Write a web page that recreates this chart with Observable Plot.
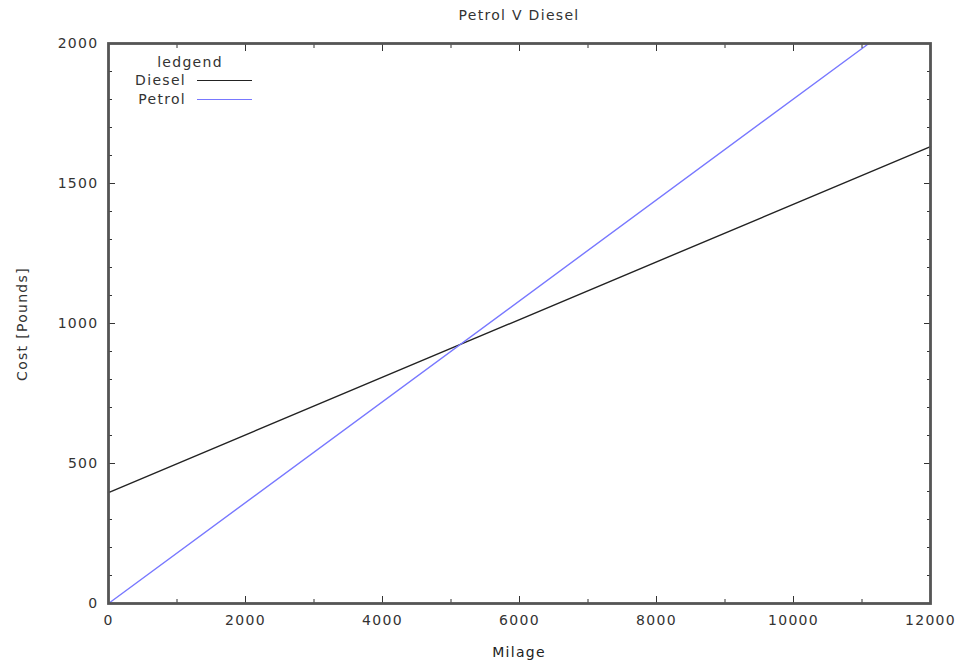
<!DOCTYPE html>
<html>
<head>
<meta charset="utf-8">
<script src="https://cdn.jsdelivr.net/npm/d3@7"></script>
<script src="https://cdn.jsdelivr.net/npm/@observablehq/plot@0.6"></script>
<style>
  body { margin: 0; background: #fff; font-family: "DejaVu Sans", sans-serif; }
  #wrap { position: relative; width: 960px; height: 662px; font-size: 14px; letter-spacing: 1.3px; color: #333; }
  .t { position: absolute; white-space: nowrap; line-height: 16px; }
  #title { top: 7px; left: 519px; transform: translateX(-50%); }
  #xlabel { top: 644px; left: 519px; transform: translateX(-50%); color: #222; }
  #ylabel { left: 22px; top: 324px; transform: translate(-50%, -50%) rotate(-90deg); }
  #lgTitle { top: 54px; left: 190px; transform: translateX(-50%); }
  .lgLab { right: calc(960px - 186px); }
  .lgLine { position: absolute; left: 197px; width: 55px; height: 0; }
</style>
</head>
<body>
<div id="wrap">
  <div id="title" class="t"></div>
  <div id="xlabel" class="t"></div>
  <div id="ylabel" class="t"></div>
  <div id="lgTitle" class="t"></div>
</div>
<script>
const titleText = "Petrol V Diesel";
const xLabel = "Milage";
const yLabel = "Cost [Pounds]";
const legendTitle = "ledgend";
const seriesNames = ["Diesel", "Petrol"];
const seriesColors = ["#222222", "#7878ff"];
const dieselMiles = [0, 12000];
const dieselCost = [396, 1632];
const petrolMiles = [0, 11100];
const petrolCost = [0, 2000];
const xMajorTicks = [0, 2000, 4000, 6000, 8000, 10000, 12000];
const xMinorTicks = [1000, 3000, 5000, 7000, 9000, 11000];
const yMajorTicks = [0, 500, 1000, 1500, 2000];
const yMinorTicks = [100, 200, 300, 400, 600, 700, 800, 900, 1100, 1200, 1300, 1400, 1600, 1700, 1800, 1900];

const rows = [
  ...dieselMiles.map((m, i) => ({series: seriesNames[0], miles: m, cost: dieselCost[i]})),
  ...petrolMiles.map((m, i) => ({series: seriesNames[1], miles: m, cost: petrolCost[i]}))
];

const blank = () => "";
const tickStyle = {stroke: "#333", strokeWidth: 1, tickFormat: blank, label: null};
const chart = Plot.plot({
  width: 960,
  height: 662,
  marginLeft: 108,
  marginRight: 30,
  marginTop: 43,
  marginBottom: 59,
  style: {fontFamily: "DejaVu Sans, sans-serif", fontSize: "14px", letterSpacing: "1.3px", color: "#333", background: "#fff"},
  x: {domain: [0, 12000]},
  y: {domain: [0, 2000]},
  color: {domain: seriesNames, range: seriesColors},
  marks: [
    Plot.line(rows, {x: "miles", y: "cost", z: "series", stroke: "series", strokeWidth: 1.4}),
    // tick labels
    Plot.axisX(xMajorTicks, {anchor: "bottom", tickSize: 0, tickPadding: 12, tickFormat: d => String(d), label: null, fill: "#333"}),
    Plot.axisY(yMajorTicks, {anchor: "left", tickSize: 0, tickPadding: 10, tickFormat: d => String(d), label: null, fill: "#333"}),
    // inward ticks, all four sides
    Plot.axisX(xMajorTicks, {anchor: "bottom", tickSize: -7, ...tickStyle}),
    Plot.axisX(xMinorTicks, {anchor: "bottom", tickSize: -4, ...tickStyle}),
    Plot.axisX(xMajorTicks, {anchor: "top", tickSize: -7, ...tickStyle}),
    Plot.axisX(xMinorTicks, {anchor: "top", tickSize: -4, ...tickStyle}),
    Plot.axisY(yMajorTicks, {anchor: "left", tickSize: -7, ...tickStyle}),
    Plot.axisY(yMinorTicks, {anchor: "left", tickSize: -4, ...tickStyle}),
    Plot.axisY(yMajorTicks, {anchor: "right", tickSize: -7, ...tickStyle}),
    Plot.axisY(yMinorTicks, {anchor: "right", tickSize: -4, ...tickStyle}),
    Plot.frame({stroke: "#555", strokeWidth: 2.8})
  ]
});
chart.style.position = "absolute";
chart.style.left = "0";
chart.style.top = "0";
const wrap = document.getElementById("wrap");
wrap.prepend(chart);

document.getElementById("title").textContent = titleText;
document.getElementById("xlabel").textContent = xLabel;
document.getElementById("ylabel").textContent = yLabel;
document.getElementById("lgTitle").textContent = legendTitle;
const rowTops = [72, 91];
seriesNames.forEach((name, i) => {
  const lab = document.createElement("div");
  lab.className = "t lgLab";
  lab.style.top = rowTops[i] + "px";
  lab.textContent = name;
  wrap.appendChild(lab);
  const ln = document.createElement("div");
  ln.className = "lgLine";
  ln.style.top = (rowTops[i] + 8) + "px";
  ln.style.borderTop = `1.4px solid ${seriesColors[i]}`;
  wrap.appendChild(ln);
});
</script>
</body>
</html>
